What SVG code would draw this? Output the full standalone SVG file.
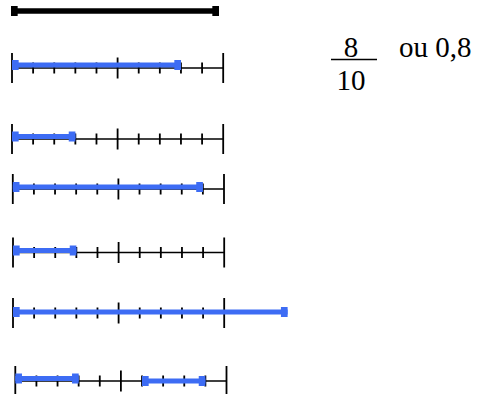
<svg xmlns="http://www.w3.org/2000/svg" xmlns:xlink="http://www.w3.org/1999/xlink" width="482" height="394" viewBox="0 0 482 394">
<style>
.axis{fill:none;stroke:#000;stroke-width:1.6}
.tick{fill:none;stroke:#000;stroke-width:1.8}
.blue{fill:none;stroke:#3d6cf4;stroke-width:5;marker-start:url(#capB);marker-end:url(#capB)}
.bar{fill:none;stroke:#000;stroke-width:5.5;marker-start:url(#capK);marker-end:url(#capK)}
.txt{font-family:"Liberation Serif","Times New Roman",serif;font-size:29px;fill:#000}
</style>
<defs>
<marker id="capB" markerUnits="userSpaceOnUse" markerWidth="8" markerHeight="10" viewBox="-6 -4.5 6 9" refX="0" refY="0" orient="auto-start-reverse" overflow="visible">
<rect x="-6" y="-4.5" width="6" height="9" fill="#3d6cf4"/>
</marker>
<marker id="capK" markerUnits="userSpaceOnUse" markerWidth="8" markerHeight="10" viewBox="-6 -4.5 6 9" refX="0" refY="0" orient="auto-start-reverse" overflow="visible">
<rect x="-6" y="-4.5" width="6" height="9" fill="#000"/>
</marker>
<g id="ruler">
<path class="axis" d="M0 0H211.2"/>
<path class="tick" d="M0 -15V15M211.2 -15V15M105.6 -10.5V10.5M21.12 -5.5V5.5M42.24 -5.5V5.5M63.36 -5.5V5.5M84.48 -5.5V5.5M126.72 -5.5V5.5M147.84 -5.5V5.5M168.96 -5.5V5.5M190.08 -5.5V5.5"/>
</g>
</defs>
<g id="unit-bar">
<path class="bar" d="M11 11H219"/>
</g>
<g id="line-a">
<use xlink:href="#ruler" href="#ruler" transform="translate(12,68)"/>
<path class="blue" d="M12 65H181"/>
</g>
<g id="fraction">
<text class="txt" x="351" y="57" text-anchor="middle">8</text>
<path d="M331 59.5H377" stroke="#000" stroke-width="1.6"/>
<text class="txt" x="351" y="89.5" text-anchor="middle">10</text>
<text class="txt" x="399" y="57">ou 0,8</text>
</g>
<g id="line-b">
<use xlink:href="#ruler" href="#ruler" transform="translate(12,139)"/>
<path class="blue" d="M12 136.5H75.4"/>
</g>
<g id="line-c">
<use xlink:href="#ruler" href="#ruler" transform="translate(12.8,189)"/>
<path class="blue" d="M12.8 187H202.9"/>
</g>
<g id="line-d">
<use xlink:href="#ruler" href="#ruler" transform="translate(13,252.5)"/>
<path class="blue" d="M13 250.5H76.4"/>
</g>
<g id="line-e">
<use xlink:href="#ruler" href="#ruler" transform="translate(13,313)"/>
<path class="blue" d="M13 312H287.6"/>
</g>
<g id="line-f">
<use xlink:href="#ruler" href="#ruler" transform="translate(15.3,381)"/>
<path class="blue" d="M15.3 378.5H78.7"/>
<path class="blue" d="M142 381H205.4"/>
</g>
</svg>
